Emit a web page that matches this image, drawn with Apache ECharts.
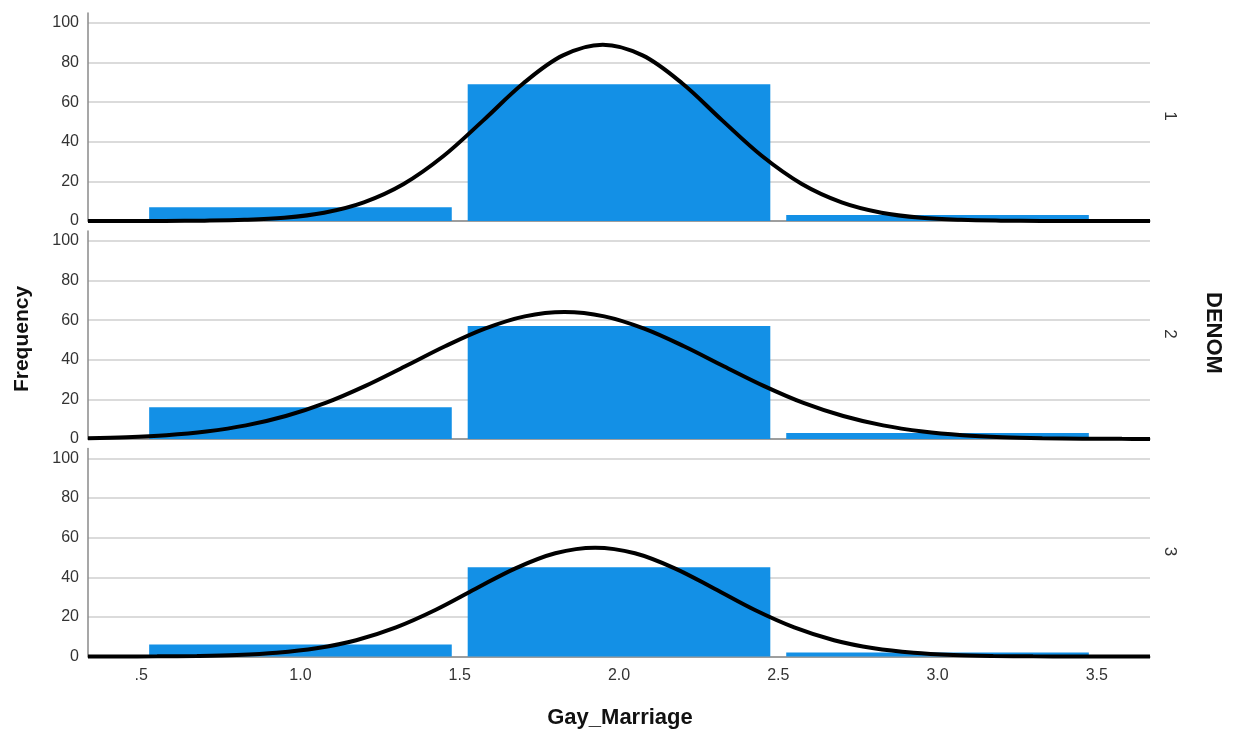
<!DOCTYPE html>
<html>
<head>
<meta charset="utf-8">
<script src="https://cdn.jsdelivr.net/npm/echarts@6/dist/echarts.min.js"></script>
<style>html,body{margin:0;padding:0;background:#fff}#c{width:1233px;height:732px}</style>
</head>
<body>
<div id="c"></div>
<script>
// ---- data ----
const panelLabels = ['1', '2', '3'];
const binCenters = [1, 2, 3];
const counts1 = [7, 69, 3];
const counts2 = [16, 57, 3];
const counts3 = [6, 45, 2];
const xTicks = [0.5, 1, 1.5, 2, 2.5, 3, 3.5];
const xTickLabels = ['.5', '1.0', '1.5', '2.0', '2.5', '3.0', '3.5'];
const yTicks = [0, 20, 40, 60, 80, 100];
// normal-curve points
const curveX1 = [0.333, 0.449, 0.574, 0.699, 0.824, 0.949, 1.074, 1.199, 1.324, 1.449, 1.574, 1.699, 1.824, 1.949, 2.074, 2.199, 2.324, 2.449, 2.574, 2.699, 2.824, 2.949, 3.074, 3.199, 3.324, 3.449, 3.667];
const curveY1 = [0, 0.01, 0.05, 0.17, 0.57, 1.65, 4.20, 9.44, 18.7, 32.8, 50.8, 69.4, 83.6, 89.0, 83.6, 69.4, 50.8, 32.8, 18.7, 9.44, 4.20, 1.65, 0.57, 0.17, 0.05, 0.01, 0];
const curveX2 = [0.333, 0.454, 0.579, 0.704, 0.829, 0.954, 1.079, 1.204, 1.329, 1.454, 1.579, 1.704, 1.829, 1.954, 2.079, 2.204, 2.329, 2.454, 2.579, 2.704, 2.829, 2.954, 3.079, 3.204, 3.329, 3.454, 3.579, 3.667];
const curveY2 = [0.43, 0.94, 1.95, 3.79, 6.86, 11.6, 18.2, 26.8, 36.7, 46.8, 55.7, 61.9, 64.1, 61.9, 55.7, 46.8, 36.7, 26.8, 18.2, 11.6, 6.86, 3.79, 1.95, 0.94, 0.42, 0.18, 0.07, 0.03];
const curveX3 = [0.333, 0.425, 0.55, 0.675, 0.8, 0.925, 1.05, 1.175, 1.3, 1.425, 1.55, 1.675, 1.8, 1.925, 2.05, 2.175, 2.3, 2.425, 2.55, 2.675, 2.8, 2.925, 3.05, 3.175, 3.3, 3.425, 3.667];
const curveY3 = [0, 0.03, 0.09, 0.28, 0.77, 1.88, 4.15, 8.23, 14.7, 23.6, 34.2, 44.5, 52.1, 54.9, 52.1, 44.5, 34.2, 23.6, 14.7, 8.23, 4.15, 1.88, 0.77, 0.28, 0.09, 0.03, 0];

// ---- styles ----
const barColor = '#1390e6';
const binHalfWidth = 0.475;
const FONT = '"Liberation Sans", Arial, sans-serif';
const xMin = 0.333, xMax = 3.667;
const gridTops = [13, 231, 448.5];
const gridH = 208;

const counts = [counts1, counts2, counts3];
const curvesX = [curveX1, curveX2, curveX3];
const curvesY = [curveY1, curveY2, curveY3];

const grids = [], xAxes = [], yAxes = [], series = [];
for (let i = 0; i < 3; i++) {
  grids.push({ left: 88, right: 83, top: gridTops[i], height: gridH });
  const last = i === 2;
  xAxes.push({
    type: 'value', gridIndex: i, min: xMin, max: xMax,
    axisLine: { show: true, lineStyle: { color: '#8a8a8a', width: 1.5 } },
    axisTick: { show: false, customValues: xTicks },
    splitLine: { show: false },
    axisLabel: {
      show: last, customValues: xTicks, margin: 11,
      color: '#333', fontSize: 16, fontFamily: FONT,
      formatter: v => { const k = xTicks.indexOf(v); return k >= 0 ? xTickLabels[k] : ''; }
    }
  });
  yAxes.push({
    type: 'value', gridIndex: i, min: 0, max: 105,
    axisLine: { show: true, lineStyle: { color: '#8a8a8a', width: 1.5 } },
    axisTick: { show: false, customValues: yTicks },
    axisLabel: { customValues: yTicks, color: '#333', fontSize: 16, fontFamily: FONT, margin: 9 },
    splitLine: { show: true, lineStyle: { color: '#cfcfcf', width: 1.5 } }
  });
  series.push({
    type: 'custom', xAxisIndex: i, yAxisIndex: i, z: 2,
    data: binCenters.map((c, k) => [c, counts[i][k]]),
    renderItem: (params, api) => {
      const c = api.value(0), h = api.value(1);
      const p0 = api.coord([c - binHalfWidth, h]);
      const p1 = api.coord([c + binHalfWidth, 0]);
      return { type: 'rect', shape: { x: p0[0], y: p0[1], width: p1[0] - p0[0], height: p1[1] - p0[1] }, style: { fill: barColor } };
    }
  });
  series.push({
    type: 'line', xAxisIndex: i, yAxisIndex: i, z: 5,
    data: curvesX[i].map((x, k) => [x, curvesY[i][k]]),
    smooth: 0.35, showSymbol: false, symbol: 'none',
    lineStyle: { color: '#000', width: 4 }, clip: false
  });
}

const graphics = [
  { type: 'text', x: 22, y: 339, rotation: Math.PI / 2, style: { text: 'Frequency', font: 'bold 21px ' + FONT, fill: '#111', align: 'center', verticalAlign: 'middle' } },
  { type: 'text', x: 1213, y: 333, rotation: -Math.PI / 2, style: { text: 'DENOM', font: 'bold 22px ' + FONT, fill: '#111', align: 'center', verticalAlign: 'middle' } },
  { type: 'text', x: 620, y: 718, style: { text: 'Gay_Marriage', font: 'bold 22px ' + FONT, fill: '#111', align: 'center', verticalAlign: 'middle' } }
];
for (let i = 0; i < 3; i++) {
  graphics.push({ type: 'text', x: 1170, y: gridTops[i] + gridH / 2 - 1, rotation: -Math.PI / 2, style: { text: panelLabels[i], font: '17px ' + FONT, fill: '#333', align: 'center', verticalAlign: 'middle' } });
}

const chart = echarts.init(document.getElementById('c'), null, { renderer: 'canvas' });
chart.setOption({
  animation: false,
  backgroundColor: '#fff',
  grid: grids, xAxis: xAxes, yAxis: yAxes, series: series,
  graphic: graphics
});
</script>
</body>
</html>
